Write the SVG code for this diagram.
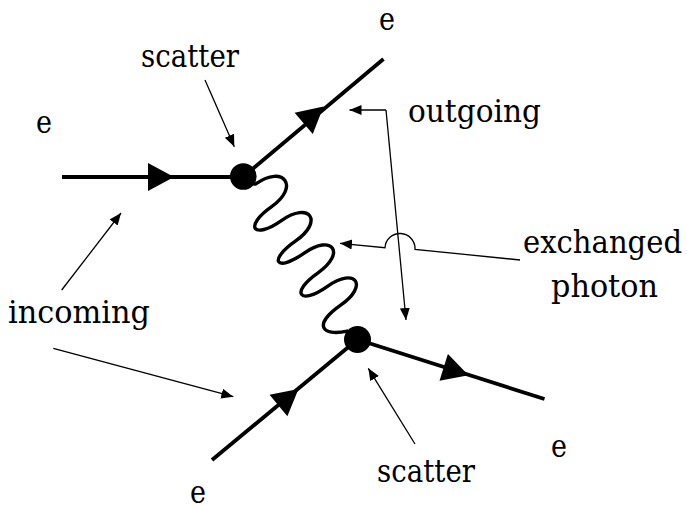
<svg xmlns="http://www.w3.org/2000/svg" xmlns:xlink="http://www.w3.org/1999/xlink" width="687" height="510" viewBox="0 0 687 510">
<style>
.fer{stroke:#000;stroke-width:3.8;fill:none;stroke-linecap:butt}
.wave{stroke:#000;stroke-width:3.4;fill:none;stroke-linecap:round}
.thin{stroke:#000;stroke-width:1.3;fill:none}
.vtx{fill:#000}
.lbl{font-family:"DejaVu Serif","Liberation Serif",serif;font-size:31.5px;fill:#000}
</style>
<defs>
<path id="big" d="M0,0 L-26,-14 L-26,14 Z" fill="#000"/>
<marker id="ah" markerUnits="userSpaceOnUse" markerWidth="13" markerHeight="11" refX="12" refY="5" orient="auto">
<path d="M0,0 L12,5 L0,10 Z" fill="#000"/>
</marker>
</defs>
<g id="connectors">
<line class="fer" x1="62" y1="177" x2="243" y2="177"/>
<line class="fer" x1="243" y1="177" x2="383.5" y2="59"/>
<line class="fer" x1="212" y1="460" x2="357.5" y2="339.5"/>
<line class="fer" x1="357.5" y1="339.5" x2="544.5" y2="399"/>
<use xlink:href="#big" transform="translate(174,177)"/>
<use xlink:href="#big" transform="translate(323.5,106.5) rotate(-40.4)"/>
<use xlink:href="#big" transform="translate(298.5,389) rotate(-39.6)"/>
<use xlink:href="#big" transform="translate(468.5,375.2) rotate(17.5)"/>
<path class="wave" transform="translate(243,177) rotate(55)" d="M0,0 C6,-2 12,-3 13,-6.5 C13,-41 40.7,-41 40.7,-6.5 C40.7,28 57.7,28 57.7,-6.5 C57.7,-41 82.6,-41 82.6,-6.5 C82.6,28 97.4,28 97.4,-6.5 C97.4,-41 121.5,-41 121.5,-6.5 C121.5,28 138,28 138,-6.5 C138,-41 161,-41 161,-6.5 C161,28 176,27 186,3 L199,0"/>
<line class="thin" x1="205" y1="80" x2="234.3" y2="146.7" marker-end="url(#ah)"/>
<line class="thin" x1="386" y1="110" x2="349.5" y2="110" marker-end="url(#ah)"/>
<line class="thin" x1="386" y1="110" x2="406" y2="320" marker-end="url(#ah)"/>
<path class="thin" d="M520,260 L415,249.3 A15,15 0 0 0 385,247.7 L340,243.3" marker-end="url(#ah)"/>
<line class="thin" x1="61.7" y1="290" x2="121" y2="213" marker-end="url(#ah)"/>
<line class="thin" x1="53.3" y1="348.3" x2="233.3" y2="396.7" marker-end="url(#ah)"/>
<line class="thin" x1="415" y1="444" x2="368.3" y2="368.3" marker-end="url(#ah)"/>
</g>
<g id="vertex-top"><circle class="vtx" cx="243.3" cy="176.5" r="13.3"/></g>
<g id="vertex-bottom"><circle class="vtx" cx="357.5" cy="339.5" r="13.5"/></g>
<g id="label-e-in-top"><text class="lbl" x="36" y="133" textLength="16" lengthAdjust="spacingAndGlyphs">e</text></g>
<g id="label-scatter-top"><text class="lbl" x="141" y="67" textLength="98" lengthAdjust="spacingAndGlyphs">scatter</text></g>
<g id="label-e-out-top"><text class="lbl" x="379" y="30" textLength="16" lengthAdjust="spacingAndGlyphs">e</text></g>
<g id="label-outgoing"><text class="lbl" x="408" y="122" textLength="133" lengthAdjust="spacingAndGlyphs">outgoing</text></g>
<g id="label-exchanged-photon"><text class="lbl" x="523" y="253" textLength="159" lengthAdjust="spacingAndGlyphs">exchanged</text><text class="lbl" x="551" y="297" textLength="107" lengthAdjust="spacingAndGlyphs">photon</text></g>
<g id="label-incoming"><text class="lbl" x="8" y="323" textLength="142" lengthAdjust="spacingAndGlyphs">incoming</text></g>
<g id="label-scatter-bottom"><text class="lbl" x="377" y="482" textLength="98" lengthAdjust="spacingAndGlyphs">scatter</text></g>
<g id="label-e-out-bottom"><text class="lbl" x="551" y="457" textLength="16" lengthAdjust="spacingAndGlyphs">e</text></g>
<g id="label-e-in-bottom"><text class="lbl" x="190" y="503" textLength="16" lengthAdjust="spacingAndGlyphs">e</text></g>
</svg>
